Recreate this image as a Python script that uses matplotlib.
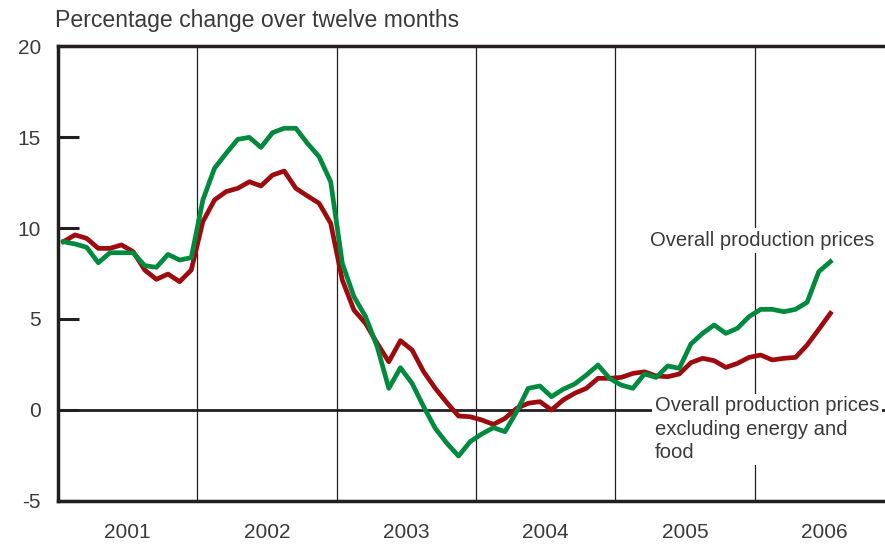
import numpy as np
import matplotlib.pyplot as plt

# Monthly data, Jan 2001 - Jul 2006
overall = [9.25, 9.12, 8.94, 8.09, 8.64, 8.64, 8.64, 7.93, 7.84, 8.55, 8.24, 8.37,
           11.54, 13.28, 14.10, 14.87, 14.98, 14.43, 15.24, 15.48, 15.48, 14.65, 13.92, 12.54,
           8.06, 6.23, 5.13, 3.48, 1.19, 2.32, 1.47, 0.18, -1.01, -1.83, -2.53, -1.74,
           -1.32, -0.97, -1.19, -0.09, 1.19, 1.32, 0.73, 1.14, 1.43, 1.92, 2.47, 1.74,
           1.37, 1.19, 1.98, 1.79, 2.42, 2.29, 3.63, 4.21, 4.67, 4.21, 4.49, 5.13,
           5.53, 5.53, 5.40, 5.53, 5.92, 7.60, 8.15]
excl_energy_food = [9.25, 9.62, 9.43, 8.88, 8.88, 9.07, 8.70, 7.69, 7.18, 7.47, 7.05, 7.69,
                    10.35, 11.54, 12.00, 12.18, 12.54, 12.31, 12.91, 13.13, 12.18, 11.76, 11.36, 10.26,
                    7.14, 5.49, 4.76, 3.66, 2.65, 3.81, 3.30, 2.10, 1.19, 0.40, -0.33, -0.37,
                    -0.55, -0.79, -0.46, 0.09, 0.37, 0.46, 0.00, 0.55, 0.92, 1.19, 1.74, 1.74,
                    1.79, 2.01, 2.10, 1.87, 1.83, 1.98, 2.60, 2.84, 2.71, 2.34, 2.56, 2.89,
                    3.02, 2.75, 2.84, 2.89, 3.57, 4.43, 5.31]
years = ['2001', '2002', '2003', '2004', '2005', '2006']

green = '#008a3e'
red = '#9e0b0f'
dark = '#231f20'
txt = '#3a3a3a'

plt.rcParams['font.family'] = ['Liberation Sans', 'DejaVu Sans']
plt.rcParams['axes.unicode_minus'] = False

fig = plt.figure(figsize=(8.85, 5.47), dpi=100)
ax = fig.add_axes([0.0651, 0.0841, 0.9349, 0.8318])

x = np.arange(len(overall)) + 0.5
ax.plot(x, overall, color=green, lw=3.4, zorder=4)
ax.plot(x, excl_energy_food, color=red, lw=3.4, zorder=3)

# year separators and zero line
for k in range(1, len(years)):
    ax.axvline(12 * k, color=dark, lw=0.9, zorder=1)
ax.axhline(0, color=dark, lw=2, zorder=2)

ax.set_xlim(0, 71.2)
ax.set_ylim(-5, 20)

ax.spines['right'].set_visible(False)
for s in ['left', 'top', 'bottom']:
    ax.spines[s].set_linewidth(2.5)
    ax.spines[s].set_color(dark)

ax.set_yticks([-5, 0, 5, 10, 15, 20])
ax.tick_params(axis='y', direction='in', length=15, width=2.2, color=dark,
               pad=12, labelsize=15, labelcolor=txt)
ax.set_xticks([])
ax.set_xticks([12 * i + 6 for i in range(len(years))], minor=True)
ax.set_xticklabels(years, minor=True)
ax.tick_params(axis='x', which='minor', length=0, pad=16, labelsize=15, labelcolor=txt)

fig.text(0.062, 0.962, 'Percentage change over twelve months', fontsize=16.6,
         color=txt, ha='left', va='center')

box = dict(facecolor='white', edgecolor='none', pad=2)
ax.text(51.0, 9.3, 'Overall production prices', fontsize=14.6, color=txt,
        ha='left', va='center', bbox=box, zorder=5)
ax.text(51.4, 0.75, 'Overall production prices\nexcluding energy and\nfood', fontsize=14.6,
        color=txt, ha='left', va='top', linespacing=1.3, bbox=box, zorder=5)

plt.savefig('out.png', dpi=100)
